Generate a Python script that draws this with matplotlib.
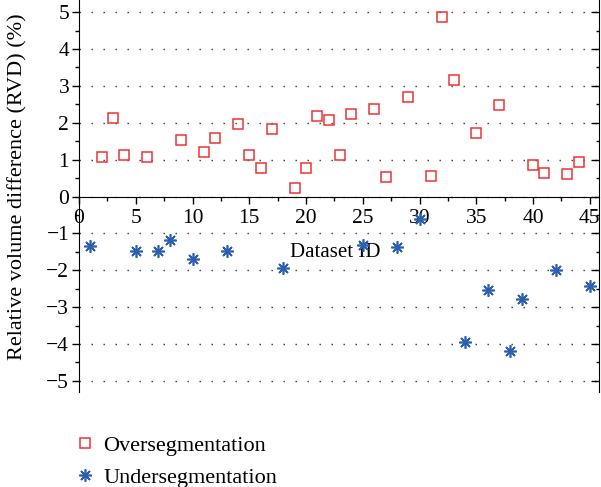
import matplotlib.pyplot as plt
from matplotlib.ticker import MultipleLocator

# Dados
over_ids = [2, 3, 4, 6, 9, 11, 12, 14, 15, 16, 17, 19, 20, 21, 22, 23,
            24, 26, 27, 29, 31, 32, 33, 35, 37, 40, 41, 43, 44]
over_rvd = [1.08, 2.14, 1.13, 1.07, 1.52, 1.21, 1.60, 1.97, 1.12, 0.77, 1.83, 0.22,
            0.77, 2.19, 2.08, 1.12, 2.24, 2.38, 0.53, 2.69, 0.56, 4.87, 3.16, 1.72,
            2.48, 0.86, 0.65, 0.60, 0.94]

under_ids = [1, 5, 7, 8, 10, 13, 18, 25, 28, 30, 34, 36, 38, 39, 42, 45]
under_rvd = [-1.33, -1.48, -1.48, -1.18, -1.69, -1.47, -1.93, -1.31, -1.36, -0.62,
             -3.95, -2.53, -4.18, -2.77, -1.99, -2.43]

plt.rcParams['font.family'] = ['Liberation Serif', 'DejaVu Serif']

fig = plt.figure(figsize=(6.01, 4.87), dpi=100)
ax = fig.add_axes([0.1314, 0.1951, 0.8652, 0.8049])

h1, = ax.plot(over_ids, over_rvd, linestyle='none', marker='s', markersize=7,
              markerfacecolor='none', markeredgecolor='#ee3333', markeredgewidth=1.1,
              label='Oversegmentation')
h2, = ax.plot(under_ids, under_rvd, linestyle='none', marker=(8, 2, 0), markersize=9,
              color='#2c5fb0', markeredgewidth=1.2, label='Undersegmentation')

ax.set_xlim(0, 45.8)
ax.set_ylim(-5.30, 5.33)

# Eixo x passando por y = 0
ax.spines['bottom'].set_position(('data', 0))
ax.spines['top'].set_visible(False)
ax.spines['right'].set_visible(False)

ax.xaxis.set_major_locator(MultipleLocator(5))
ax.xaxis.set_minor_locator(MultipleLocator(2.5))
ax.yaxis.set_major_locator(MultipleLocator(1))
ax.yaxis.set_minor_locator(MultipleLocator(0.5))
ax.tick_params(which='major', direction='out', length=5, width=1, labelsize=15.5, pad=2)
ax.tick_params(axis='x', which='major', pad=4)
ax.tick_params(which='minor', direction='out', length=3, width=1)

ax.yaxis.grid(True, which='major', linestyle=(0, (1, 7.64)), color='#333333', linewidth=1)

ax.set_xlabel('Dataset ID', fontsize=15)
ax.xaxis.set_label_coords(0.492, 0.357)
ax.xaxis.label.set_va('center')
ax.set_ylabel('Relative volume difference (RVD) (%)', fontsize=16)
ax.yaxis.set_label_coords(-0.117, 0.523)
ax.yaxis.label.set_va('center')

# Ticks para dentro no lado direito
ax2 = ax.twinx()
ax2.set_ylim(ax.get_ylim())
ax2.yaxis.set_major_locator(MultipleLocator(1))
ax2.yaxis.set_minor_locator(MultipleLocator(0.5))
ax2.tick_params(which='major', direction='in', length=6, width=1, labelright=False)
ax2.tick_params(which='minor', direction='in', length=2.5, width=1)
for s in ['top', 'bottom', 'left']:
    ax2.spines[s].set_visible(False)

fig.legend(handles=[h1, h2], loc='upper left', bbox_to_anchor=(0.126, 0.1057),
           frameon=False, fontsize=16, handlelength=0.8, handletextpad=0.45,
           borderpad=0, borderaxespad=0, labelspacing=0.5)

fig.savefig('out.png', dpi=100)
